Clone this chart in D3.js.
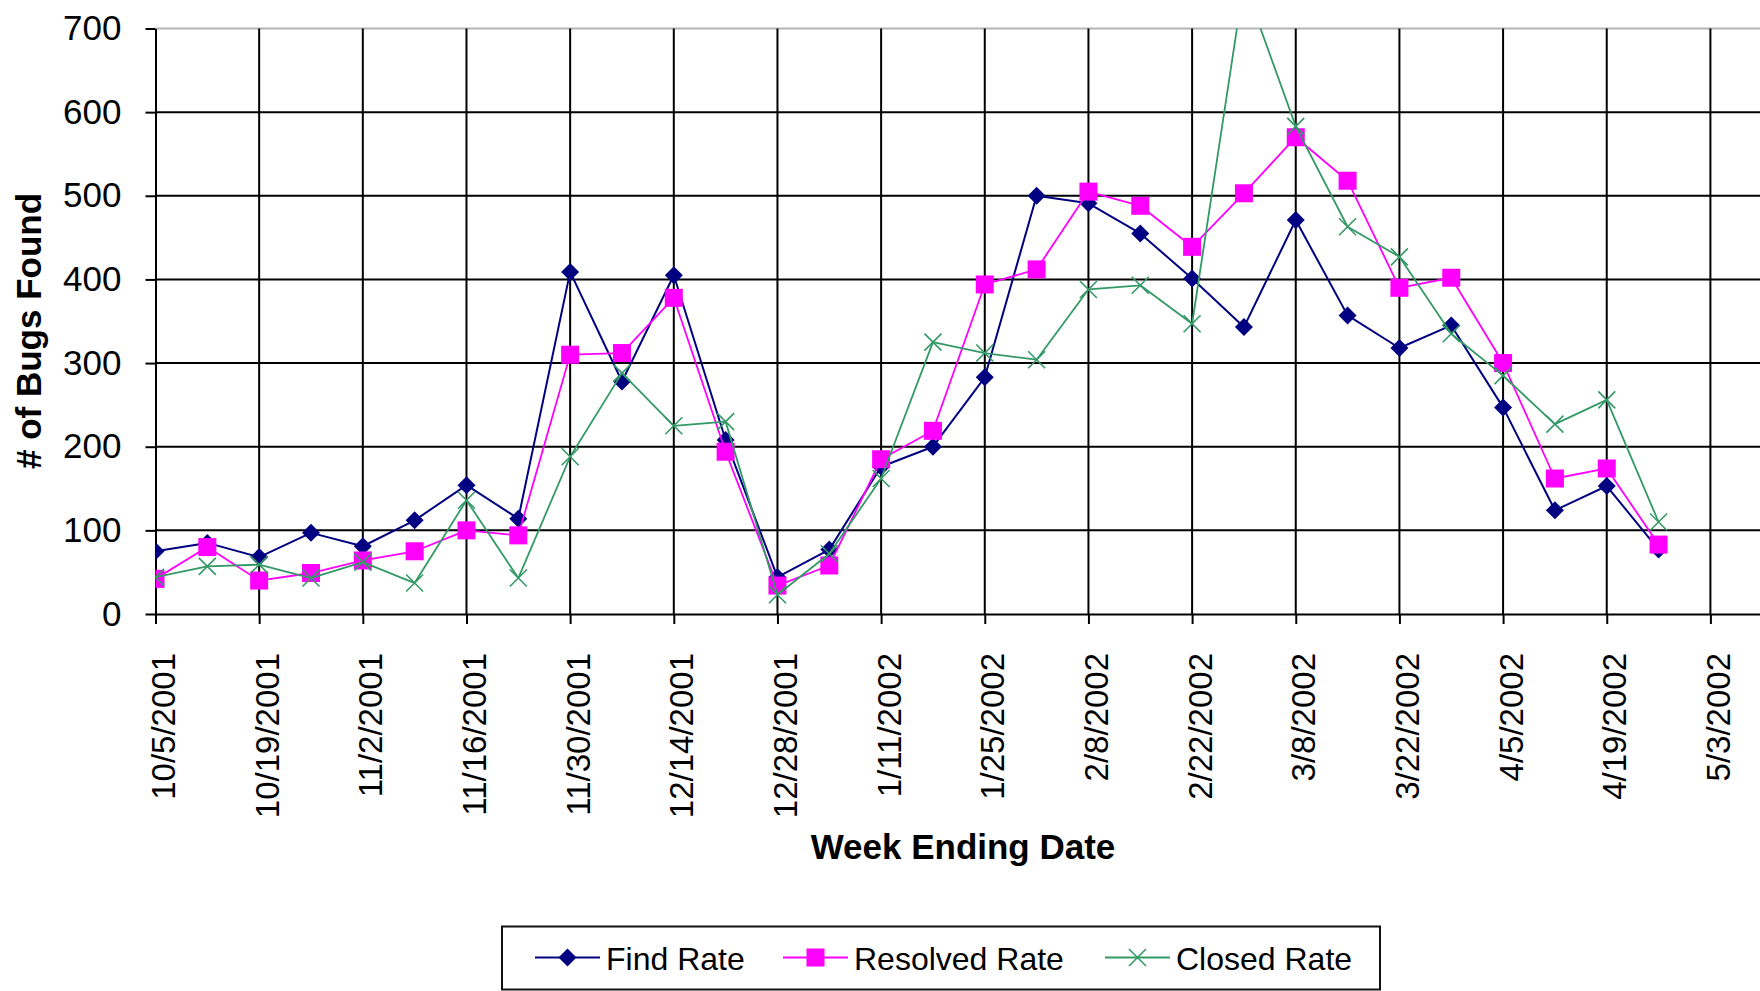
<!DOCTYPE html>
<html>
<head>
<meta charset="utf-8">
<script src="https://cdn.jsdelivr.net/npm/d3@7"></script>
<style>
  body { margin: 0; background: #fff; }
  svg { display: block; }
  text { font-family: "Liberation Sans", Arial, Helvetica, sans-serif; fill: #000; }
</style>
</head>
<body>
<svg id="chart" width="1760" height="991"></svg>
<script>
// Weekly bug counts, week ending date
const weeks = ["10/5/2001","10/12/2001","10/19/2001","10/26/2001","11/2/2001","11/9/2001",
  "11/16/2001","11/23/2001","11/30/2001","12/7/2001","12/14/2001","12/21/2001","12/28/2001",
  "1/4/2002","1/11/2002","1/18/2002","1/25/2002","2/1/2002","2/8/2002","2/15/2002","2/22/2002",
  "3/1/2002","3/8/2002","3/15/2002","3/22/2002","3/29/2002","4/5/2002","4/12/2002","4/19/2002","4/26/2002"];
const findRate     = [75, 85, 68, 97, 81, 112, 154, 114, 409, 278, 405, 208, 44, 77, 176, 200, 283, 500, 491, 455, 401, 343, 471, 357, 318, 345, 247, 124, 153, 77];
const resolvedRate = [42, 80, 40, 49, 64, 75, 100, 94, 310, 312, 378, 194, 34, 58, 185, 219, 394, 412, 505, 488, 439, 503, 570, 518, 390, 402, 300, 162, 174, 83];
const closedRate   = [44, 57, 59, 43, 62, 37, 136, 43, 188, 288, 225, 230, 23, 72, 162, 325, 312, 304, 388, 393, 347, 755, 583, 463, 427, 335, 285, 227, 256, 110];
const yTicks = [0, 100, 200, 300, 400, 500, 600, 700];
const xTickLabels = ["10/5/2001","10/19/2001","11/2/2001","11/16/2001","11/30/2001","12/14/2001",
  "12/28/2001","1/11/2002","1/25/2002","2/8/2002","2/22/2002","3/8/2002","3/22/2002","4/5/2002",
  "4/19/2002","5/3/2002"];
const seriesNames = ["Find Rate", "Resolved Rate", "Closed Rate"];

const parse = d3.utcParse("%m/%d/%Y");
const fmt = d3.utcFormat("%-m/%-d/%Y");

const svg = d3.select("#chart");
const plot = { left: 155.5, top: 28.5, bottom: 614 };
const weekPx = 51.83;

// date axis runs two weeks past the last label, beyond the page edge
const x = d3.scaleUtc()
  .domain([parse("10/5/2001"), parse("5/17/2002")])
  .range([plot.left, plot.left + 32 * weekPx]);
const y = d3.scaleLinear().domain([0, 700]).range([plot.bottom, plot.top]);
const plotRight = x.range()[1];

// clip region for the series
svg.append("defs").append("clipPath").attr("id", "plotClip")
  .append("rect")
  .attr("x", plot.left).attr("y", plot.top)
  .attr("width", plotRight - plot.left).attr("height", plot.bottom - plot.top);

// horizontal gridlines
const grid = svg.append("g");
grid.selectAll("line.h")
  .data(yTicks.filter(v => v > 0))
  .join("line")
  .attr("x1", plot.left).attr("x2", plotRight)
  .attr("y1", d => y(d)).attr("y2", d => y(d))
  .attr("stroke", d => d === 700 ? "#b4b4b4" : "#000")
  .attr("stroke-width", 2);

// vertical gridlines
grid.selectAll("line.v")
  .data(xTickLabels.slice(1))
  .join("line")
  .attr("x1", d => x(parse(d))).attr("x2", d => x(parse(d)))
  .attr("y1", plot.top).attr("y2", plot.bottom)
  .attr("stroke", "#000")
  .attr("stroke-width", 2);

// y axis
const yAxis = svg.append("g")
  .attr("transform", `translate(${plot.left},0)`)
  .call(d3.axisLeft(y).tickValues(yTicks).tickSize(10).tickSizeOuter(0).tickPadding(24));
yAxis.select(".domain").attr("stroke", "#000").attr("stroke-width", 2);
yAxis.selectAll(".tick line").attr("stroke", "#000").attr("stroke-width", 2);
yAxis.selectAll(".tick text").attr("font-size", 35).attr("fill", "#000")
  .style("font-family", '"Liberation Sans", Arial, sans-serif');

// x axis
const xAxis = svg.append("g")
  .attr("transform", `translate(0,${plot.bottom})`)
  .call(d3.axisBottom(x).tickValues(xTickLabels.map(parse)).tickFormat(fmt)
    .tickSize(10).tickSizeOuter(0));
xAxis.select(".domain").attr("stroke", "#000").attr("stroke-width", 2);
xAxis.selectAll(".tick line").attr("stroke", "#000").attr("stroke-width", 2);
xAxis.selectAll(".tick text")
  .attr("font-size", 33).attr("fill", "#000")
  .style("font-family", '"Liberation Sans", Arial, sans-serif')
  .attr("text-anchor", "end")
  .attr("transform", "rotate(-90)")
  .attr("x", -39).attr("y", 0).attr("dy", "19px");

// axis titles
svg.append("text")
  .attr("transform", "translate(41,331) rotate(-90)")
  .attr("text-anchor", "middle")
  .attr("font-size", 35).attr("font-weight", "bold")
  .text("# of Bugs Found");
svg.append("text")
  .attr("x", 963).attr("y", 859)
  .attr("text-anchor", "middle")
  .attr("font-size", 35).attr("font-weight", "bold")
  .text("Week Ending Date");

// marker shapes
function drawMarker(g, kind, cx, cy, color) {
  if (kind === "diamond") {
    const r = 9;
    g.append("path")
      .attr("d", `M${cx},${cy - r}L${cx + r},${cy}L${cx},${cy + r}L${cx - r},${cy}Z`)
      .attr("fill", color);
  } else if (kind === "square") {
    const s = 9;
    g.append("rect")
      .attr("x", cx - s).attr("y", cy - s).attr("width", 2 * s).attr("height", 2 * s)
      .attr("fill", color);
  } else {
    const r = 8.5;
    g.append("path")
      .attr("d", `M${cx - r},${cy - r}L${cx + r},${cy + r}M${cx - r},${cy + r}L${cx + r},${cy - r}`)
      .attr("stroke", color).attr("stroke-width", 1.6).attr("fill", "none");
  }
}

const series = [
  { name: seriesNames[0], values: findRate, color: "#000080", width: 2, marker: "diamond" },
  { name: seriesNames[1], values: resolvedRate, color: "#ff00ff", width: 1.8, marker: "square" },
  { name: seriesNames[2], values: closedRate, color: "#339966", width: 1.8, marker: "x" }
];

const line = d3.line()
  .x((d, i) => x(parse(weeks[i])))
  .y(d => y(d));

const seriesLayer = svg.append("g").attr("clip-path", "url(#plotClip)");
series.forEach(s => {
  const g = seriesLayer.append("g");
  g.append("path")
    .datum(s.values)
    .attr("d", line)
    .attr("fill", "none")
    .attr("stroke", s.color)
    .attr("stroke-width", s.width)
    .attr("stroke-linejoin", "round");
  s.values.forEach((v, i) => drawMarker(g, s.marker, x(parse(weeks[i])), y(v), s.color));
});

// legend
const legend = svg.append("g");
legend.append("rect")
  .attr("x", 502).attr("y", 926.5).attr("width", 878).attr("height", 63)
  .attr("fill", "#fff").attr("stroke", "#111").attr("stroke-width", 2);
const legendItems = [
  { x0: 535, x1: 600, tx: 606 },
  { x0: 783, x1: 848, tx: 854 },
  { x0: 1105, x1: 1170, tx: 1176 }
];
series.forEach((s, i) => {
  const it = legendItems[i];
  const ly = 957.5;
  legend.append("line")
    .attr("x1", it.x0).attr("x2", it.x1).attr("y1", ly).attr("y2", ly)
    .attr("stroke", s.color).attr("stroke-width", s.width);
  drawMarker(legend, s.marker, (it.x0 + it.x1) / 2, ly, s.color);
  legend.append("text")
    .attr("x", it.tx).attr("y", 970)
    .attr("font-size", 32)
    .text(s.name);
});
</script>
</body>
</html>
